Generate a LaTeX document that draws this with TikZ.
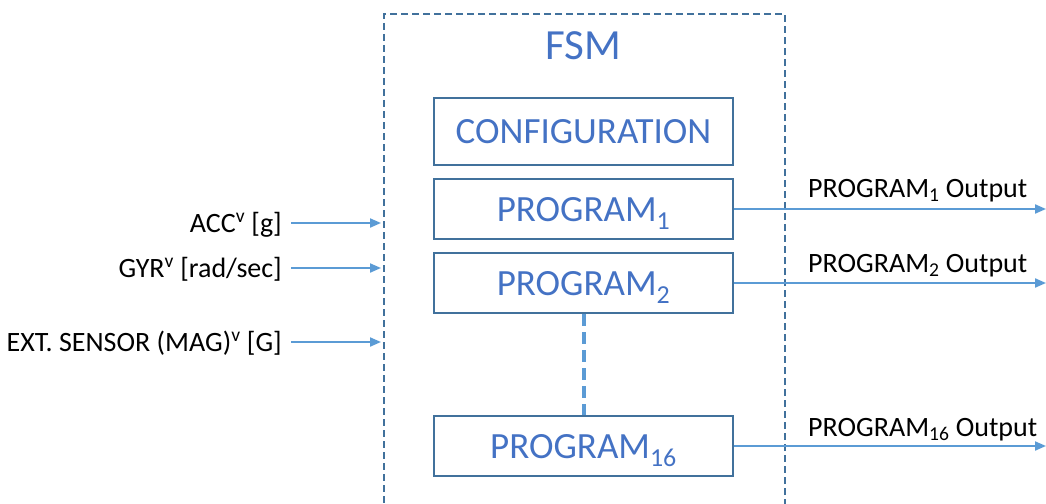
\documentclass[tikz,border=0pt]{standalone}
\usepackage{fontspec}
\setmainfont{Carlito}
\usetikzlibrary{arrows.meta}
\definecolor{boxline}{RGB}{65,113,156}
\definecolor{boxtext}{RGB}{68,114,196}
\definecolor{flowblue}{RGB}{91,155,213}

\begin{document}
\begin{tikzpicture}[x=1pt,y=-1pt,
	prog/.style={draw=boxline, line width=2pt, minimum width=299pt, minimum height=60pt,
		inner sep=0pt, text=boxtext, text height=24pt, text depth=0pt, font=\fontsize{37}{40}\selectfont},
	lbl/.style={inner sep=0pt, text height=18pt, text depth=0pt, font=\fontsize{28}{32}\selectfont},
	flow/.style={draw=flowblue, line width=2pt, -{Triangle[length=11pt,width=9pt]}}]
		\useasboundingbox (0,0) rectangle (1046,503);
		% FSM frame, open at the bottom of the page
		\node[draw=boxline, line width=2pt, dash pattern=on 7pt off 4pt,
			minimum width=401pt, minimum height=520pt, anchor=north west] (fsm) at (383,13) {};
		\node[text=boxtext, font=\fontsize{43}{46}\selectfont] (title) at (583,46) {FSM};
		\node[prog, minimum height=67pt] (config) at (583.5,131.5) {CONFIGURATION};
		\node[prog] (p1) at (583.5,209) {PROGRAM\textsubscript{1}};
		\node[prog] (p2) at (583.5,283) {PROGRAM\textsubscript{2}};
		\node[prog] (p16) at (583.5,446) {PROGRAM\textsubscript{16}};
		\draw[flowblue, line width=4pt, dash pattern=on 12pt off 6pt] (p2.south) -- (p16.north);
		% inputs
		\node[lbl, anchor=east] (acc) at (282,223) {ACC\textsuperscript{v} [g]};
		\node[lbl, anchor=east] (gyr) at (282,268) {GYR\textsuperscript{v} [rad/sec]};
		\node[lbl, anchor=east] (ext) at (282,342) {EXT. SENSOR (MAG)\textsuperscript{v} [G]};
		\draw[flow, shorten <=9pt, shorten >=2pt] (acc.east) -- (acc.east -| fsm.west);
		\draw[flow, shorten <=9pt, shorten >=2pt] (gyr.east) -- (gyr.east -| fsm.west);
		\draw[flow, shorten <=9pt, shorten >=2pt] (ext.east) -- (ext.east -| fsm.west);
		% outputs
		\coordinate (outend) at (1046,0);
		\draw[flow] (p1.east) -- (p1.east -| outend);
		\draw[flow] (p2.east) -- (p2.east -| outend);
		\draw[flow] (p16.east) -- (p16.east -| outend);
		\node[lbl, anchor=west] (o1) at (808,188) {PROGRAM\textsubscript{1} Output};
		\node[lbl, anchor=west] (o2) at (808,263) {PROGRAM\textsubscript{2} Output};
		\node[lbl, anchor=west] (o16) at (808,427) {PROGRAM\textsubscript{16} Output};
\end{tikzpicture}
\end{document}
